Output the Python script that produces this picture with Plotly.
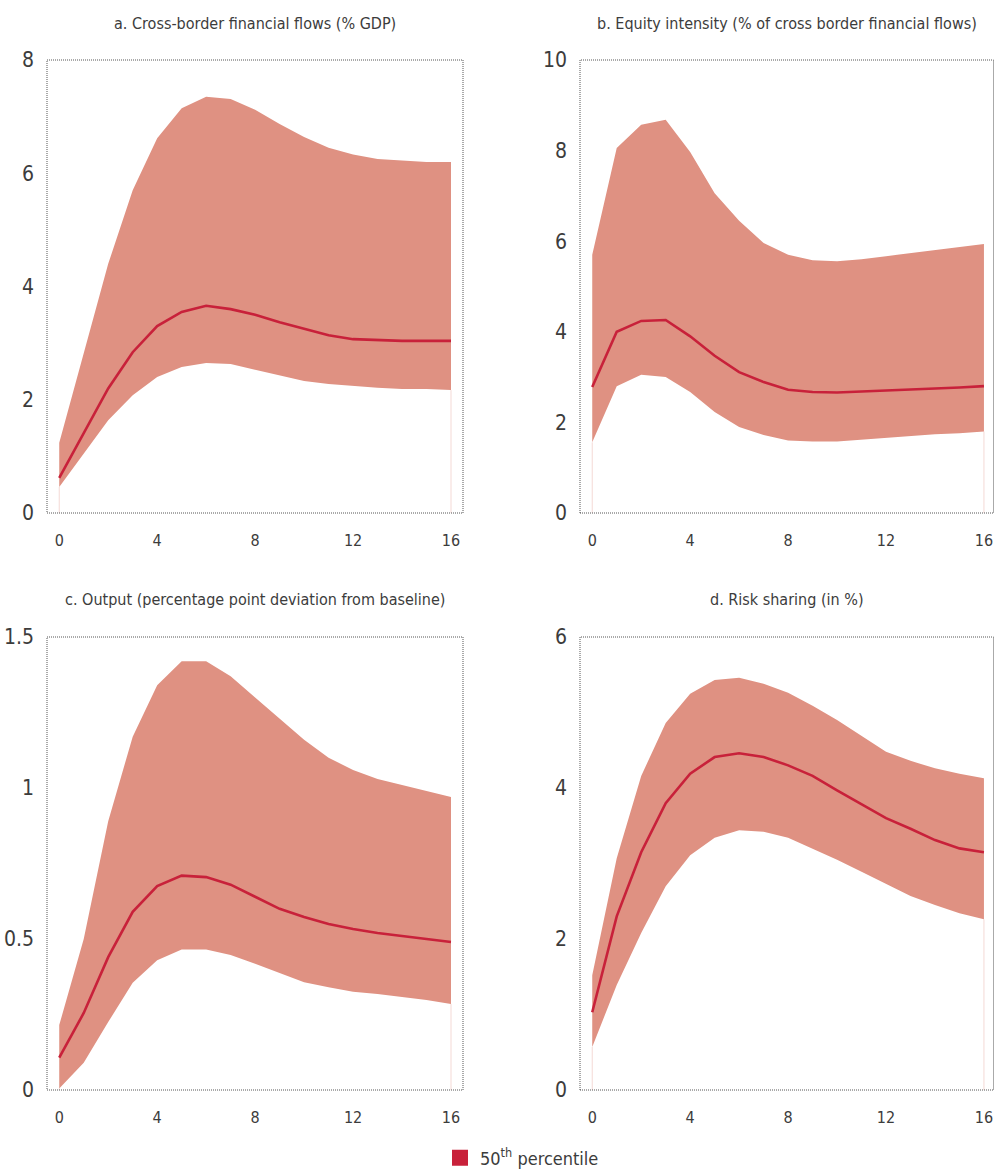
import plotly.graph_objects as go

# Horizon (quarters after the shock)
horizon = list(range(17))

# a. Cross-border financial flows (% GDP)
flows_lo = [0.46, 1.05, 1.64, 2.08, 2.40, 2.58, 2.65, 2.63, 2.53, 2.42, 2.33, 2.28, 2.24, 2.21, 2.19, 2.19, 2.17]
flows_med = [0.62, 1.40, 2.20, 2.84, 3.30, 3.55, 3.66, 3.60, 3.50, 3.37, 3.25, 3.14, 3.07, 3.05, 3.04, 3.04, 3.04]
flows_hi = [1.24, 2.80, 4.40, 5.70, 6.62, 7.15, 7.35, 7.31, 7.12, 6.87, 6.64, 6.45, 6.33, 6.25, 6.22, 6.20, 6.20]

# b. Equity intensity (% of cross border financial flows)
equity_lo = [1.56, 2.80, 3.05, 3.00, 2.67, 2.23, 1.90, 1.72, 1.60, 1.58, 1.58, 1.62, 1.67, 1.70, 1.74, 1.76, 1.80]
equity_med = [2.78, 4.00, 4.24, 4.26, 3.90, 3.47, 3.11, 2.89, 2.72, 2.67, 2.66, 2.68, 2.71, 2.73, 2.75, 2.77, 2.80]
equity_hi = [5.70, 8.06, 8.57, 8.68, 7.97, 7.06, 6.45, 5.96, 5.70, 5.58, 5.56, 5.60, 5.67, 5.74, 5.80, 5.87, 5.94]

# c. Output (percentage point deviation from baseline)
output_lo = [0.005, 0.09, 0.225, 0.355, 0.43, 0.465, 0.465, 0.447, 0.418, 0.388, 0.357, 0.34, 0.325, 0.318, 0.308, 0.298, 0.285]
output_med = [0.107, 0.255, 0.44, 0.59, 0.675, 0.71, 0.705, 0.68, 0.64, 0.60, 0.573, 0.55, 0.533, 0.52, 0.51, 0.50, 0.49]
output_hi = [0.215, 0.50, 0.89, 1.17, 1.34, 1.42, 1.42, 1.37, 1.30, 1.23, 1.16, 1.10, 1.06, 1.03, 1.01, 0.99, 0.97]

# d. Risk sharing (in %)
risk_lo = [0.57, 1.39, 2.08, 2.70, 3.11, 3.34, 3.44, 3.42, 3.34, 3.20, 3.05, 2.89, 2.73, 2.57, 2.45, 2.34, 2.26]
risk_med = [1.03, 2.30, 3.15, 3.80, 4.19, 4.41, 4.46, 4.41, 4.30, 4.16, 3.97, 3.79, 3.60, 3.46, 3.31, 3.20, 3.15]
risk_hi = [1.52, 3.07, 4.16, 4.86, 5.25, 5.43, 5.46, 5.38, 5.26, 5.09, 4.90, 4.69, 4.48, 4.36, 4.26, 4.19, 4.13]

titles = [
    "a. Cross-border financial flows (% GDP)",
    "b. Equity intensity (% of cross border financial flows)",
    "c. Output (percentage point deviation from baseline)",
    "d. Risk sharing (in %)",
]
y_ticks = [
    [0, 2, 4, 6, 8],
    [0, 2, 4, 6, 8, 10],
    [0, 0.5, 1, 1.5],
    [0, 2, 4, 6],
]
y_tick_text = [
    ["0", "2", "4", "6", "8"],
    ["0", "2", "4", "6", "8", "10"],
    ["0", "0.5", "1", "1.5"],
    ["0", "2", "4", "6"],
]
y_ranges = [[0, 8], [0, 10], [0, 1.5], [0, 6]]
x_ticks = [0, 4, 8, 12, 16]

bands = [
    (flows_lo, flows_med, flows_hi),
    (equity_lo, equity_med, equity_hi),
    (output_lo, output_med, output_hi),
    (risk_lo, risk_med, risk_hi),
]

W, H = 994, 1171
BAND = "#df9182"
MEDIAN = "#c8213a"
EDGE = "#f4d9d5"
TEXT = "#3c3c3c"
FONT = "DejaVu Sans Condensed, Liberation Sans Narrow, sans-serif"

# panel boxes in pixels: (left, right, top, bottom)
boxes = [
    (47, 463, 60, 513),
    (580, 993.5, 60, 513),
    (47, 463, 637, 1090),
    (580, 993.5, 637, 1090),
]
x_ranges = [[-0.5, 16.49], [-0.5, 16.39], [-0.5, 16.49], [-0.5, 16.39]]

fig = go.Figure()
layout = {}
shapes = []
annotations = []

for k, (lo, med, hi) in enumerate(bands):
    n = "" if k == 0 else str(k + 1)
    xa, ya = "x" + n, "y" + n
    left, right, top, bottom = boxes[k]

    # faint edges under the band at the first and last horizon
    for i in (0, len(horizon) - 1):
        fig.add_trace(go.Scatter(
            x=[horizon[i], horizon[i]], y=[0, lo[i]], mode="lines",
            line=dict(color=EDGE, width=1), hoverinfo="skip",
            showlegend=False, xaxis=xa, yaxis=ya))

    fig.add_trace(go.Scatter(
        x=horizon, y=lo, mode="lines", line=dict(width=0, color=BAND),
        hoverinfo="skip", showlegend=False, xaxis=xa, yaxis=ya))
    fig.add_trace(go.Scatter(
        x=horizon, y=hi, mode="lines", line=dict(width=0, color=BAND),
        fill="tonexty", fillcolor=BAND, hoverinfo="skip",
        showlegend=False, xaxis=xa, yaxis=ya))
    fig.add_trace(go.Scatter(
        x=horizon, y=med, mode="lines", line=dict(width=2.6, color=MEDIAN),
        showlegend=False, xaxis=xa, yaxis=ya))

    layout["xaxis" + n] = dict(
        domain=[left / W, right / W], range=x_ranges[k], anchor=ya,
        tickvals=x_ticks, ticks="", showgrid=False, zeroline=False,
        showline=False, tickfont=dict(family=FONT, size=16, color=TEXT),
        ticklabelstandoff=16, ticklabeloverflow="allow",
        automargin=False, fixedrange=True)
    layout["yaxis" + n] = dict(
        domain=[1 - bottom / H, 1 - top / H], range=y_ranges[k], anchor=xa,
        tickvals=y_ticks[k], ticktext=y_tick_text[k], ticks="",
        showgrid=False, zeroline=False, showline=False,
        tickfont=dict(family=FONT, size=21, color=TEXT),
        ticklabelstandoff=12, automargin=False, fixedrange=True)

    shapes.append(dict(
        type="rect", xref=xa + " domain", yref=ya + " domain",
        x0=0, x1=1, y0=0, y1=1, layer="above",
        line=dict(color="#555555", width=1, dash="1px,1px")))

    annotations.append(dict(
        text=titles[k], xref="paper", yref="paper",
        x=(left + right) / 2 / W, y=1 - (top - 37) / H,
        xanchor="center", yanchor="middle", showarrow=False,
        font=dict(family=FONT, size=16, color=TEXT)))

# legend entry for the median line
fig.add_trace(go.Scatter(
    x=[None], y=[None], mode="markers", name="50<sup>th</sup> percentile",
    marker=dict(symbol="square", size=16, color=MEDIAN), showlegend=True))

fig.update_layout(
    **layout,
    template="none",
    width=W, height=H,
    margin=dict(l=0, r=0, t=0, b=0, autoexpand=False),
    paper_bgcolor="white", plot_bgcolor="white",
    shapes=shapes, annotations=annotations,
    showlegend=True,
    legend=dict(orientation="h", x=522 / W, xanchor="center", y=13 / H,
                yanchor="middle", font=dict(family=FONT, size=18, color=TEXT),
                bgcolor="rgba(0,0,0,0)"),
)

fig.write_html("out.html")
